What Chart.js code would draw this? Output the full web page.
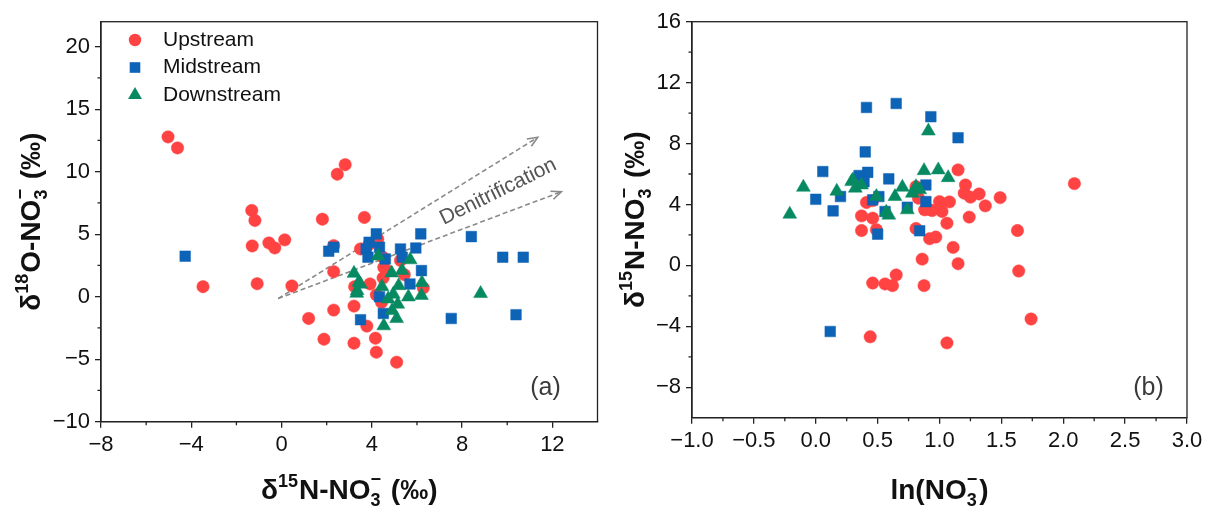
<!DOCTYPE html>
<html>
<head>
<meta charset="utf-8">
<script src="https://cdn.jsdelivr.net/npm/chart.js@4.4.1/dist/chart.umd.min.js"></script>
<style>
  html, body { margin: 0; padding: 0; background: #fff; }
  #wrap { position: relative; width: 1212px; height: 515px; }
  canvas { position: absolute; top: 0; width: 606px; height: 515px; }
  #chartA { left: 0; }
  #chartB { left: 606px; }
</style>
</head>
<body>
<div id="wrap">
  <canvas id="chartA" width="606" height="515"></canvas>
  <canvas id="chartB" width="606" height="515"></canvas>
</div>
<script>
var FONT = '"Liberation Sans", Arial, sans-serif'

// panel (a): [d15N, d18O]
var upstreamA = [
  [-5.03, 12.78], [-4.61, 11.9], [-3.48, 0.8], [-1.32, 6.9], [-1.18, 6.1],
  [-1.3, 4.06], [-1.08, 1.04], [-0.56, 4.3], [-0.3, 3.9], [0.14, 4.55],
  [0.46, 0.86], [1.2, -1.74], [1.81, 6.2], [1.88, -3.4], [2.31, 4.09],
  [2.31, 2.0], [2.31, -1.07], [2.47, 9.8], [2.82, 10.56], [3.21, -0.75],
  [3.21, -3.72], [3.67, 6.34], [3.5, 3.82], [3.24, 0.8], [3.78, -2.35],
  [4.16, -3.32], [4.2, -4.44], [5.1, -5.24], [3.92, 1.02], [4.2, 0.15],
  [4.5, 1.5], [4.65, 2.1], [4.5, 3.15], [4.26, 4.6], [5.44, 1.76],
  [5.27, 2.9], [6.28, 0.7], [4.43, -0.45], [3.87, 4.17], [4.53, 2.35]
]
var midstreamA = [
  [-4.27, 3.24], [2.09, 3.64], [2.31, 3.96], [3.5, -1.84], [3.75, 3.82],
  [3.83, 3.16], [3.88, 4.36], [4.2, 5.03], [4.34, 3.96], [4.34, 0.0],
  [4.6, 3.02], [4.51, -1.34], [5.27, 3.82], [5.35, 3.16], [5.95, 3.9],
  [6.17, 5.03], [6.2, 2.09], [5.69, 1.02], [8.41, 4.81], [7.52, -1.74],
  [9.8, 3.16], [10.71, 3.16], [10.39, -1.44]
]
var downstreamA = [
  [3.21, 1.87], [3.42, 1.15], [3.35, 0.48], [3.33, 0.27], [3.5, 1.0],
  [4.28, 3.25], [4.45, 0.8], [4.53, -2.33], [4.72, -0.19], [4.88, 1.9],
  [4.95, 0.2], [4.9, -1.1], [5.1, -1.75], [5.15, -0.6], [5.19, 0.88],
  [5.34, 2.1], [5.7, 2.95], [5.62, -0.02], [6.2, 0.1], [6.22, 1.12],
  [8.82, 0.25]
]

// panel (b): [ln(NO3-), d15N]
var upstreamB = [
  [0.41, 4.13], [0.46, 4.25], [0.37, 3.25], [0.46, 3.1], [0.37, 2.29],
  [0.49, 2.34], [0.46, -1.16], [0.56, -1.22], [0.62, -1.33], [0.65, -0.63],
  [0.44, -4.69], [0.81, 5.17], [0.83, 4.41], [0.81, 2.42], [0.86, 0.41],
  [0.875, -1.33], [0.91, 3.69], [0.92, 1.75], [0.97, 1.86], [1.0, 4.19],
  [1.02, 3.54], [1.06, 2.77], [1.08, 4.17], [1.11, 1.18], [1.15, 6.27],
  [1.15, 0.11], [1.06, -5.09], [1.21, 5.28], [1.2, 4.74], [1.25, 4.48],
  [1.32, 4.69], [1.24, 3.17], [1.37, 3.91], [1.49, 4.45], [1.63, 2.29],
  [1.64, -0.37], [1.74, -3.52], [2.09, 5.37], [0.88, 3.65], [0.94, 3.6]
]
var midstreamB = [
  [0.41, 10.37], [0.65, 10.63], [0.93, 9.76], [1.15, 8.38], [0.4, 7.45],
  [0.057, 6.16], [0.42, 6.11], [0.35, 5.9], [0.39, 5.5], [0.59, 5.68],
  [0.0, 4.34], [0.2, 4.52], [0.14, 3.58], [0.51, 4.52], [0.46, 4.3],
  [0.56, 3.54], [0.74, 3.82], [0.5, 2.05], [0.84, 2.27], [0.89, 5.28],
  [0.89, 4.19], [0.117, -4.34]
]
var downstreamB = [
  [-0.21, 3.36], [-0.1, 5.13], [0.17, 4.87], [0.3, 5.61], [0.32, 5.07],
  [0.37, 5.28], [0.49, 4.52], [0.57, 3.49], [0.59, 3.3], [0.64, 4.52],
  [0.7, 5.13], [0.74, 3.65], [0.78, 4.74], [0.84, 4.96], [0.875, 6.22],
  [0.99, 6.27], [0.91, 8.82], [1.07, 5.76], [0.81, 5.17], [0.29, 5.5]
]

var seriesNames = ['Upstream', 'Midstream', 'Downstream']

// tick values
var xTicksA = [-8, -4, 0, 4, 8, 12]
var xMinorA = [-6, -2, 2, 6, 10]
var yTicksA = [-10, -5, 0, 5, 10, 15, 20]
var yMinorA = [-7.5, -2.5, 2.5, 7.5, 12.5, 17.5]
var xTicksB = [-1, -0.5, 0, 0.5, 1, 1.5, 2, 2.5, 3]
var xMinorB = [-0.75, -0.25, 0.25, 0.75, 1.25, 1.75, 2.25, 2.75]
var yTicksB = [-8, -4, 0, 4, 8, 12, 16]
var yMinorB = [-6, -2, 2, 6, 10, 14]

// denitrification arrows in (d15N, d18O)
var arrowFrom = [[-0.15, -0.15], [-0.15, -0.15]]
var arrowTo = [[11.35, 12.75], [12.4, 8.4]]

var seriesStyle = [
  { color: '#FF4242', shape: 'circle', radius: 6.2 },
  { color: '#0D63B6', shape: 'rect', radius: 7.5 },
  { color: '#078A62', shape: 'triangle', radius: 8 }
]

function minus(s) { return String(s).replace('-', '\u2212') }

function makeSets(lists) {
  return lists.map(function(pts, i) {
    var st = seriesStyle[i]
    return {
      label: seriesNames[i],
      data: pts.map(function(p) { return { x: p[0], y: p[1] } }),
      pointStyle: st.shape,
      pointRadius: st.radius,
      backgroundColor: st.color,
      borderColor: st.color,
      borderWidth: 0.5,
      order: 3 - i
    }
  })
}

function axis(min, max, ticks, fmt, fitSize, pad) {
  return {
    type: 'linear',
    min: min,
    max: max,
    afterBuildTicks: function(s) { s.ticks = ticks.map(function(v) { return { value: v } }) },
    afterFit: function(s) {
      if (s.isHorizontal()) s.height = fitSize
      else s.width = fitSize
      s.paddingLeft = 0; s.paddingRight = 0; s.paddingTop = 0; s.paddingBottom = 0
    },
    ticks: {
      callback: fmt,
      autoSkip: false,
      maxRotation: 0,
      padding: pad,
      color: '#111',
      font: { family: FONT, size: 22 }
    },
    grid: { drawOnChartArea: false, drawTicks: true, tickLength: 6, color: '#222', lineWidth: 1.3 },
    border: { display: true, color: '#222', width: 1.3 },
    title: { display: false }
  }
}

function drawRich(ctx, parts, cx, cy, rot, size) {
  var big = 'bold ' + size + 'px ' + FONT
  var small = 'bold ' + Math.round(size * 0.64) + 'px ' + FONT
  var widths = parts.map(function(p) {
    ctx.font = p[1] === 'n' ? big : small
    var w = ctx.measureText(p[0]).width
    if (p[1] === 'stack') w = Math.max(w, ctx.measureText('\u2212').width) + 2
    if (p[1] === 'sup') w += 1
    return w
  })
  var total = widths.reduce(function(s, w) { return s + w }, 0)
  ctx.save()
  ctx.translate(cx, cy)
  ctx.rotate(rot)
  ctx.fillStyle = '#111'
  ctx.textAlign = 'left'
  ctx.textBaseline = 'alphabetic'
  var x = -total / 2
  var base = size * 0.36
  parts.forEach(function(p, i) {
    if (p[1] === 'n') {
      ctx.font = big
      ctx.fillText(p[0], x, base)
    } else if (p[1] === 'sup') {
      ctx.font = small
      ctx.fillText(p[0], x, base - size * 0.44)
    } else {
      ctx.font = small
      ctx.fillText(p[0], x, base + size * 0.26)
      ctx.fillText('\u2212', x, base - size * 0.5)
    }
    x += widths[i]
  })
  ctx.restore()
}

function drawMarker(ctx, st, x, y) {
  var r = st.radius
  ctx.fillStyle = st.color
  ctx.beginPath()
  if (st.shape === 'circle') {
    ctx.arc(x, y, r, 0, Math.PI * 2)
  } else if (st.shape === 'rect') {
    var s = r * Math.SQRT1_2
    ctx.rect(x - s, y - s, 2 * s, 2 * s)
  } else {
    ctx.moveTo(x, y - r)
    ctx.lineTo(x + r * 0.866, y + r * 0.5)
    ctx.lineTo(x - r * 0.866, y + r * 0.5)
    ctx.closePath()
  }
  ctx.fill()
}

var titleN15 = [['\u03B4', 'n'], ['15', 'sup'], ['N-NO', 'n'], ['3', 'stack'], [' (\u2030)', 'n']]
var titleO18 = [['\u03B4', 'n'], ['18', 'sup'], ['O-NO', 'n'], ['3', 'stack'], [' (\u2030)', 'n']]
var titleLn = [['ln(NO', 'n'], ['3', 'stack'], [')', 'n']]

var panelDecor = {
  id: 'panelDecor',
  afterDraw: function(chart, args, opts) {
    var ctx = chart.ctx
    var a = chart.chartArea
    var xs = chart.scales.x
    var ys = chart.scales.y
    ctx.save()
    ctx.strokeStyle = '#222'
    ctx.lineWidth = 1.3
    ctx.strokeRect(a.left, a.top, a.right - a.left, a.bottom - a.top)
    ctx.beginPath()
    opts.xMinor.forEach(function(v) {
      var px = xs.getPixelForValue(v)
      ctx.moveTo(px, a.bottom)
      ctx.lineTo(px, a.bottom + 3.5)
    })
    opts.yMinor.forEach(function(v) {
      var py = ys.getPixelForValue(v)
      ctx.moveTo(a.left, py)
      ctx.lineTo(a.left - 3.5, py)
    })
    ctx.stroke()
    drawRich(ctx, opts.xTitle, (a.left + a.right) / 2, opts.xTitleY, 0, 28)
    drawRich(ctx, opts.yTitle, opts.yTitleX, (a.top + a.bottom) / 2, -Math.PI / 2, 28)
    ctx.font = '25px ' + FONT
    ctx.fillStyle = '#3a3a3a'
    ctx.textAlign = 'center'
    ctx.textBaseline = 'middle'
    ctx.fillText(opts.tag, a.right - opts.tagDx, a.bottom - opts.tagDy)
    ctx.restore()
  }
}

var denitrification = {
  id: 'denitrification',
  beforeDatasetsDraw: function(chart, args, opts) {
    var ctx = chart.ctx
    var xs = chart.scales.x
    var ys = chart.scales.y
    ctx.save()
    ctx.strokeStyle = '#8a8a8a'
    ctx.lineWidth = 1.6
    var angSum = 0
    arrowFrom.forEach(function(f, i) {
      var x0 = xs.getPixelForValue(f[0]), y0 = ys.getPixelForValue(f[1])
      var x1 = xs.getPixelForValue(arrowTo[i][0]), y1 = ys.getPixelForValue(arrowTo[i][1])
      var ang = Math.atan2(y1 - y0, x1 - x0)
      angSum += ang
      ctx.setLineDash([5, 3])
      ctx.beginPath()
      ctx.moveTo(x0, y0)
      ctx.lineTo(x1, y1)
      ctx.stroke()
      ctx.setLineDash([])
      ctx.beginPath()
      ctx.moveTo(x1 - 11 * Math.cos(ang - 0.4), y1 - 11 * Math.sin(ang - 0.4))
      ctx.lineTo(x1, y1)
      ctx.lineTo(x1 - 11 * Math.cos(ang + 0.4), y1 - 11 * Math.sin(ang + 0.4))
      ctx.stroke()
    })
    var tx = xs.getPixelForValue(opts.textAt[0])
    var ty = ys.getPixelForValue(opts.textAt[1])
    ctx.translate(tx, ty)
    ctx.rotate(angSum / arrowFrom.length)
    ctx.font = '21px ' + FONT
    ctx.fillStyle = '#555'
    ctx.textAlign = 'center'
    ctx.textBaseline = 'middle'
    ctx.fillText('Denitrification', 0, 0)
    ctx.restore()
  },
  afterDraw: function(chart) {
    var ctx = chart.ctx
    var a = chart.chartArea
    ctx.save()
    ctx.font = '21px ' + FONT
    ctx.textAlign = 'left'
    ctx.textBaseline = 'middle'
    seriesNames.forEach(function(name, i) {
      var y = a.top + 18.3 + i * 27.5
      drawMarker(ctx, seriesStyle[i], a.left + 34, y)
      ctx.fillStyle = '#111'
      ctx.fillText(name, a.left + 62, y)
    })
    ctx.restore()
  }
}

var chartA = new Chart(document.getElementById('chartA'), {
  type: 'scatter',
  data: { datasets: makeSets([upstreamA, midstreamA, downstreamA]) },
  options: {
    responsive: false,
    animation: false,
    events: [],
    layout: { padding: { top: 21.7, right: 7, left: 0, bottom: 0 } },
    scales: {
      x: axis(-8, 14, xTicksA, function(v) { return minus(v) }, 93.3, 4),
      y: axis(-10, 22, yTicksA, function(v) { return minus(v) }, 101, 5)
    },
    plugins: {
      legend: { display: false },
      tooltip: { enabled: false },
      panelDecor: { xMinor: xMinorA, yMinor: yMinorA, xTitle: titleN15, yTitle: titleO18,
        xTitleY: 489, yTitleX: 30, tag: '(a)', tagDx: 52, tagDy: 33.7 },
      denitrification: { textAt: [9.6, 8.4] }
    }
  },
  plugins: [panelDecor, denitrification]
})

var chartB = new Chart(document.getElementById('chartB'), {
  type: 'scatter',
  data: { datasets: makeSets([upstreamB, midstreamB, downstreamB]) },
  options: {
    responsive: false,
    animation: false,
    events: [],
    layout: { padding: { top: 21.7, right: 25, left: 0, bottom: 0 } },
    scales: {
      x: axis(-1, 3, xTicksB, function(v) { return minus(v.toFixed(1)) }, 97.3, 4),
      y: axis(-10, 16, yTicksB, function(v) { return minus(v) }, 86, 5)
    },
    plugins: {
      legend: { display: false },
      tooltip: { enabled: false },
      panelDecor: { xMinor: xMinorB, yMinor: yMinorB, xTitle: titleLn, yTitle: titleN15,
        xTitleY: 489, yTitleX: 28, tag: '(b)', tagDx: 38.5, tagDy: 29.7 }
    }
  },
  plugins: [panelDecor]
})
</script>
</body>
</html>
